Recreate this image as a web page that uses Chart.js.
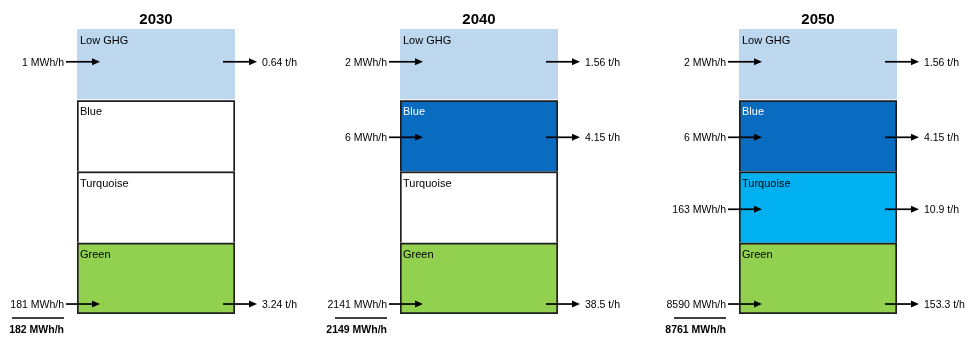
<!DOCTYPE html>
<html>
<head>
<meta charset="utf-8">
<script src="https://cdn.jsdelivr.net/npm/chart.js@4"></script>
<style>
  html, body { margin: 0; padding: 0; background: #fff; }
  #wrap { position: relative; width: 968px; height: 337px; overflow: hidden; background: #fff; }
  #wrap canvas { position: absolute; top: 0; }
</style>
</head>
<body>
<div id="wrap">
  <canvas id="c0" width="320" height="337" style="left:0px"></canvas>
  <canvas id="c1" width="322" height="337" style="left:322px"></canvas>
  <canvas id="c2" width="323" height="337" style="left:645px"></canvas>
</div>
<script>
// ---- data ----
const years = ['2030', '2040', '2050'];
const segments = ['Low GHG', 'Blue', 'Turquoise', 'Green'];   // top to bottom
const segmentUnits = [1, 1, 1, 1];                              // equal-height cells
const inputs2030 = [1, null, null, 181];        // MWh/h
const inputs2040 = [2, 6, null, 2141];
const inputs2050 = [2, 6, 163, 8590];
const outputs2030 = [0.64, null, null, 3.24];   // t/h
const outputs2040 = [1.56, 4.15, null, 38.5];
const outputs2050 = [1.56, 4.15, 10.9, 153.3];
const totals = [182, 2149, 8761];               // MWh/h

// ---- styles ----
const segColors = ['#bdd7ee', '#0a6cc0', '#00b0f0', '#92d050'];
const labelColors = ['#000', '#fff', '#000', '#000'];
const arrowFrac = [0.46, 0.52, 0.53, 0.86];     // arrow position within cell (from top)
const FONT = '"Liberation Sans", Arial, sans-serif';
const panels = [
  { id: 'c0', pad: { left: 77, right: 85 } },
  { id: 'c1', pad: { left: 78, right: 86 } },
  { id: 'c2', pad: { left: 94, right: 71 } }
];
const allInputs = [inputs2030, inputs2040, inputs2050];
const allOutputs = [outputs2030, outputs2040, outputs2050];

function drawArrow(ctx, x1, x2, y) {
  ctx.save();
  ctx.strokeStyle = '#000'; ctx.fillStyle = '#000'; ctx.lineWidth = 1.7;
  ctx.beginPath(); ctx.moveTo(x1, y); ctx.lineTo(x2 - 6, y); ctx.stroke();
  ctx.beginPath(); ctx.moveTo(x2, y); ctx.lineTo(x2 - 8, y - 3.5); ctx.lineTo(x2 - 8, y + 3.5); ctx.closePath(); ctx.fill();
  ctx.restore();
}

function makePlugin(p) {
  return {
    id: 'flows',
    afterDatasetsDraw(chart) {
      const ctx = chart.ctx;
      const ins = allInputs[p], outs = allOutputs[p];
      let lastIn = null;
      chart.data.datasets.forEach((ds, di) => {
        const si = ds.segIndex;
        const el = chart.getDatasetMeta(di).data[0];
        const top = Math.min(el.y, el.base), bot = Math.max(el.y, el.base);
        const left = el.x - el.width / 2, right = el.x + el.width / 2;
        // white separator under the Low GHG cell
        if (si === 0) {
          ctx.save(); ctx.fillStyle = '#fff';
          ctx.fillRect(left, bot - 1, right - left, 1);
          ctx.restore();
        }
        // segment label
        ctx.save();
        ctx.font = '11px ' + FONT;
        ctx.fillStyle = ins[si] != null ? labelColors[si] : '#000';
        ctx.textAlign = 'left'; ctx.textBaseline = 'middle';
        ctx.fillText(segments[si], left + 3, top + 12);
        ctx.restore();
        if (ins[si] == null) return;
        const y = top + arrowFrac[si] * (bot - top);
        // input arrow + label
        drawArrow(ctx, left - 11, left + 23, y);
        ctx.save();
        ctx.font = '10.5px ' + FONT; ctx.fillStyle = '#000';
        ctx.textAlign = 'right'; ctx.textBaseline = 'middle';
        ctx.fillText(ins[si] + ' MWh/h', left - 13, y + 1);
        ctx.restore();
        // output arrow + label
        drawArrow(ctx, right - 12, right + 22, y);
        ctx.save();
        ctx.font = '10.5px ' + FONT; ctx.fillStyle = '#000';
        ctx.textAlign = 'left'; ctx.textBaseline = 'middle';
        ctx.fillText(outs[si] + ' t/h', right + 27, y + 1);
        ctx.restore();
        if (si === segments.length - 1) lastIn = { left, bot };
      });
      if (lastIn) {
        const xr = lastIn.left - 13;
        ctx.save();
        ctx.strokeStyle = '#000'; ctx.lineWidth = 1.6;
        ctx.beginPath(); ctx.moveTo(xr - 52, lastIn.bot + 4); ctx.lineTo(xr, lastIn.bot + 4); ctx.stroke();
        ctx.font = 'bold 10.5px ' + FONT; ctx.fillStyle = '#000';
        ctx.textAlign = 'right'; ctx.textBaseline = 'middle';
        ctx.fillText(totals[p] + ' MWh/h', xr, lastIn.bot + 16);
        ctx.restore();
      }
    }
  };
}

panels.forEach((panel, p) => {
  const ins = allInputs[p];
  // stacked bottom-up: Green, Turquoise, Blue, Low GHG
  const order = [3, 2, 1, 0];
  const datasets = order.map(si => {
    const active = ins[si] != null;
    let borderWidth = 2, borderColor = '#1e1e1e', borderSkipped = 'start';
    if (si === 0) { borderWidth = 0; borderColor = segColors[0]; borderSkipped = false; }
    if (si === 3) { borderSkipped = false; }
    return {
      label: segments[si],
      segIndex: si,
      data: [segmentUnits[si]],
      backgroundColor: active ? segColors[si] : '#ffffff',
      borderColor, borderWidth, borderSkipped,
      barPercentage: 1, categoryPercentage: 1
    };
  });
  new Chart(document.getElementById(panel.id), {
    type: 'bar',
    data: { labels: [years[p]], datasets },
    options: {
      responsive: false, animation: false, devicePixelRatio: 1,
      layout: { padding: { left: panel.pad.left, right: panel.pad.right, top: 0, bottom: 23 } },
      scales: {
        x: { display: false, stacked: true },
        y: { display: false, stacked: true, min: 0, max: 4 }
      },
      plugins: {
        legend: { display: false },
        tooltip: { enabled: false },
        title: {
          display: true, text: years[p], color: '#000',
          font: { family: FONT, size: 15, weight: 'bold' },
          padding: { top: 11, bottom: 0 }
        }
      }
    },
    plugins: [makePlugin(p)]
  });
});
</script>
</body>
</html>
